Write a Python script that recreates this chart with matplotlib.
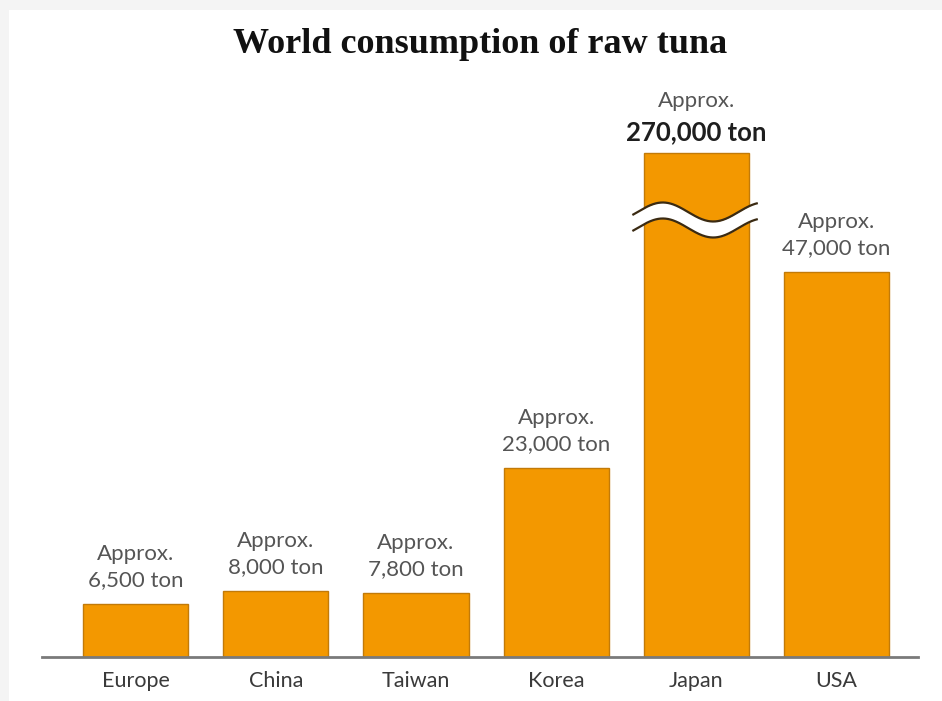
import numpy as np
import matplotlib
matplotlib.use("Agg")
import matplotlib.pyplot as plt
from matplotlib.patches import Rectangle
from matplotlib.transforms import blended_transform_factory

# ---- data ----
countries = ["Europe", "China", "Taiwan", "Korea", "Japan", "USA"]
consumption = [6500, 8000, 7800, 23000, 270000, 47000]
value_labels = ["6,500 ton", "8,000 ton", "7,800 ton", "23,000 ton", "270,000 ton", "47,000 ton"]
prefix = "Approx."
title = "World consumption of raw tuna"
broken = "Japan"

# ---- style ----
BAR = "#f39800"
EDGE = "#c27a08"
GRAY_TXT = "#555555"
FONT = "Lato"
W, H = 942, 701
PT = 0.72  # points per pixel at dpi 100

# broken-axis scale: linear up to T, compressed above
T = 50000.0
K = 0.0521


def fwd(v):
    v = np.asarray(v, dtype=float)
    return np.where(v <= T, v, T + (v - T) * K)


def inv(u):
    u = np.asarray(u, dtype=float)
    return np.where(u <= T, u, T + (u - T) / K)


fig = plt.figure(figsize=(W / 100, H / 100), dpi=100, facecolor="#f4f4f4")
fig.patches.append(Rectangle((9 / W, 0), 1 - 9 / W, (H - 10) / H,
                             transform=fig.transFigure, facecolor="white",
                             edgecolor="none", zorder=-10))

ax = fig.add_axes([42 / W, 44 / H, 876 / W, (657 - 10) / H])
ax.set_facecolor("none")
ax.set_yscale("function", functions=(fwd, inv))
top_disp = 647 / 0.0082
ax.set_ylim(0, float(inv(top_disp)))
ax.set_xlim(-0.667, 5.58)

x = np.arange(len(countries))
bars = ax.bar(x, consumption, width=0.75, color=BAR, edgecolor=EDGE,
              linewidth=1.0, zorder=2)

for s in ["left", "right", "top"]:
    ax.spines[s].set_visible(False)
ax.spines["bottom"].set_color("#7a7a7a")
ax.spines["bottom"].set_linewidth(2)
ax.spines["bottom"].set_zorder(3)
ax.set_yticks([])
ax.set_xticks(x)
ax.set_xticklabels(countries, fontsize=15.5, color="#3a3a3a", family=FONT)
ax.tick_params(axis="x", length=0, pad=10)

for i, (c, v, lab) in enumerate(zip(countries, consumption, value_labels)):
    if c == broken:
        ax.annotate(lab, (i, v), xytext=(0, 13 * PT), textcoords="offset points",
                    ha="center", va="baseline", fontsize=18.5, fontweight="bold",
                    color="#1e1e1e", family=FONT, annotation_clip=False)
        ax.annotate(prefix, (i, v), xytext=(0, 46 * PT), textcoords="offset points",
                    ha="center", va="baseline", fontsize=16, color=GRAY_TXT,
                    family=FONT, annotation_clip=False)
    else:
        ax.annotate(lab, (i, v), xytext=(0, 18 * PT), textcoords="offset points",
                    ha="center", va="baseline", fontsize=16, color=GRAY_TXT,
                    family=FONT, annotation_clip=False)
        ax.annotate(prefix, (i, v), xytext=(0, 44 * PT), textcoords="offset points",
                    ha="center", va="baseline", fontsize=16, color=GRAY_TXT,
                    family=FONT, annotation_clip=False)

# ---- break mark on the broken bar ----
bi = countries.index(broken)
axh_px = 647.0
center_frac = 437.0 / axh_px
amp = 9.5 / axh_px
gap = 16.0 / axh_px
xs = np.linspace(bi - 0.45, bi + 0.43, 200)
phase = 2 * np.pi * (xs - (bi - 0.24)) / 0.72
upper = center_frac + gap / 2 + amp * np.sin(phase + np.pi / 2)
lower = upper - gap
tr = blended_transform_factory(ax.transData, ax.transAxes)
ax.fill_between(xs, lower, upper, transform=tr, color="white", zorder=4,
                linewidth=0)
ax.plot(xs, upper, transform=tr, color="#3a2a12", lw=1.6, zorder=5)
ax.plot(xs, lower, transform=tr, color="#3a2a12", lw=1.6, zorder=5)

fig.text(480 / W, 1 - 53 / H, title, ha="center", va="baseline",
         fontsize=26, fontweight="bold", family="Liberation Serif", color="#111111")

fig.savefig("out.png", dpi=100, facecolor=fig.get_facecolor())
